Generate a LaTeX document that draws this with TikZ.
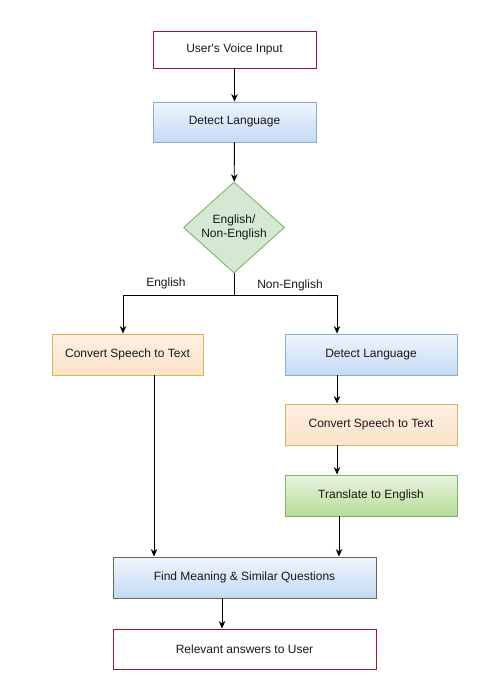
\documentclass[tikz,border=0pt]{standalone}
\usepackage{fontspec}
\setmainfont{Liberation Sans}
\usetikzlibrary{shapes.geometric,arrows.meta,calc}
\definecolor{redb}{RGB}{170,20,40}
\definecolor{blueb}{RGB}{140,172,214}
\definecolor{bluetop}{RGB}{240,245,253}
\definecolor{bluebot}{RGB}{196,218,245}
\definecolor{orgb}{RGB}{214,182,86}
\definecolor{orgtop}{RGB}{253,240,226}
\definecolor{orgbot}{RGB}{252,226,200}
\definecolor{grnb}{RGB}{130,179,102}
\definecolor{grntop}{RGB}{234,244,226}
\definecolor{grnbot}{RGB}{182,220,150}
\definecolor{diaf}{RGB}{213,232,212}
\definecolor{oliveb}{RGB}{105,105,70}
\tikzset{
  base/.style={rectangle, inner sep=0pt, line width=0.9pt, font=\fontsize{12}{14}\selectfont, text=black!90},
  redbox/.style={base, draw=redb, fill=white},
  bluebox/.style={base, draw=blueb, top color=bluetop, bottom color=bluebot},
  orgbox/.style={base, draw=orgb, top color=orgtop, bottom color=orgbot},
  grnbox/.style={base, draw=grnb, top color=grntop, bottom color=grnbot},
  decision/.style={diamond, draw=grnb, fill=diaf, line width=0.9pt, inner sep=0pt, minimum width=101pt, minimum height=91pt, align=center, font=\fontsize{12}{14}\selectfont, text=black!90},
  arr/.style={line width=0.9pt, -{Stealth[length=7.5pt,width=6.5pt]}},
  ln/.style={line width=0.9pt},
  lbl/.style={font=\fontsize{12}{14}\selectfont, text=black!90, inner sep=0pt}
}
\begin{document}
\begin{tikzpicture}[x=1pt,y=-1pt]
\useasboundingbox[fill=white] (0,0) rectangle (497,690);
\node[redbox, minimum width=163pt, minimum height=37pt] (u) at (234.5,49.5) {User\textquotesingle s Voice Input};
\node[bluebox, minimum width=163pt, minimum height=40pt] (d1) at (234.5,122) {Detect Language};
\node[decision] (dia) at (234,227.5) {English/\\Non-English};
\node[orgbox, minimum width=151pt, minimum height=41pt] (convL) at (127.5,354.5) {Convert Speech to Text};
\node[bluebox, minimum width=172pt, minimum height=41pt] (d2) at (371,354.5) {Detect Language};
\node[orgbox, minimum width=172pt, minimum height=41pt] (convR) at (371,424.5) {Convert Speech to Text};
\node[grnbox, minimum width=172pt, minimum height=41pt] (tr) at (371,495.5) {Translate to English};
\node[bluebox, draw=oliveb, minimum width=263pt, minimum height=41pt] (find) at (244.5,577.5) {Find Meaning \& Similar Questions};
\node[redbox, minimum width=263pt, minimum height=40pt] (rel) at (244.5,649) {Relevant answers to User};
\node[lbl] (le) at (166,283) {English};
\node[lbl] (lne) at (290,285) {Non-English};
\coordinate (xl) at (123,0);
\coordinate (xr) at (337,0);
\coordinate (xa) at (154,0);
\coordinate (xt) at (339,0);
\coordinate (xf) at (222,0);
\draw[arr] (u) -- (d1);
\draw[arr] (d1) -- (dia);
\draw[ln] (dia.south) -- ++(0,22) coordinate (br);
\draw[arr] (br) -| (xl |- convL.north);
\draw[arr] (br) -| (xr |- d2.north);
\draw[arr] (xr |- d2.south) -- (xr |- convR.north);
\draw[arr] (xr |- convR.south) -- (xr |- tr.north);
\draw[arr] (xa |- convL.south) -- (xa |- find.north);
\draw[arr] (xt |- tr.south) -- (xt |- find.north);
\draw[arr] (xf |- find.south) -- (xf |- rel.north);
\end{tikzpicture}
\end{document}
